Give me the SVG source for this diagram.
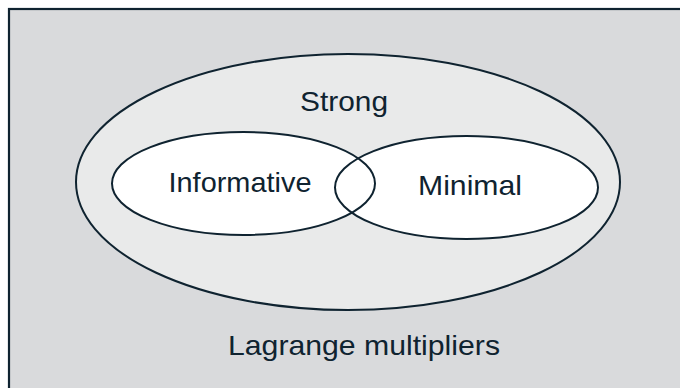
<svg xmlns="http://www.w3.org/2000/svg" width="680" height="388" viewBox="0 0 680 388">
  <style>
    .frame { fill: #d9dadc; stroke: #0f2330; stroke-width: 2.2; }
    .outer { fill: #e9eaea; stroke: #0f2330; stroke-width: 2; }
    .set-fill { fill: #ffffff; stroke: none; }
    .set-line { fill: none; stroke: #0f2330; stroke-width: 2; }
    .label { font-family: "Liberation Sans", Arial, sans-serif; font-size: 28px; fill: #0f2330; text-anchor: middle; }
  </style>

  <!-- backdrop: the set of all Lagrange multipliers -->
  <g id="lagrange">
    <rect class="frame" x="9" y="9" width="700" height="400"/>
    <text class="label" x="364" y="355" textLength="272" lengthAdjust="spacingAndGlyphs">Lagrange multipliers</text>
  </g>

  <!-- strong multipliers -->
  <g id="strong">
    <ellipse class="outer" cx="348" cy="182" rx="272" ry="128"/>
    <text class="label" x="344" y="111" textLength="88" lengthAdjust="spacingAndGlyphs">Strong</text>
  </g>

  <!-- two overlapping subsets: fills first, outlines on top -->
  <g id="informative">
    <ellipse class="set-fill" cx="243.5" cy="183.5" rx="131.5" ry="51.5"/>
  </g>
  <g id="minimal">
    <ellipse class="set-fill" cx="466.5" cy="187.5" rx="131.5" ry="51.5"/>
  </g>
  <g id="outlines">
    <ellipse class="set-line" cx="243.5" cy="183.5" rx="131.5" ry="51.5"/>
    <ellipse class="set-line" cx="466.5" cy="187.5" rx="131.5" ry="51.5"/>
  </g>
  <g id="labels">
    <text class="label" x="240" y="192" textLength="143" lengthAdjust="spacingAndGlyphs">Informative</text>
    <text class="label" x="470" y="195" textLength="104" lengthAdjust="spacingAndGlyphs">Minimal</text>
  </g>
</svg>
